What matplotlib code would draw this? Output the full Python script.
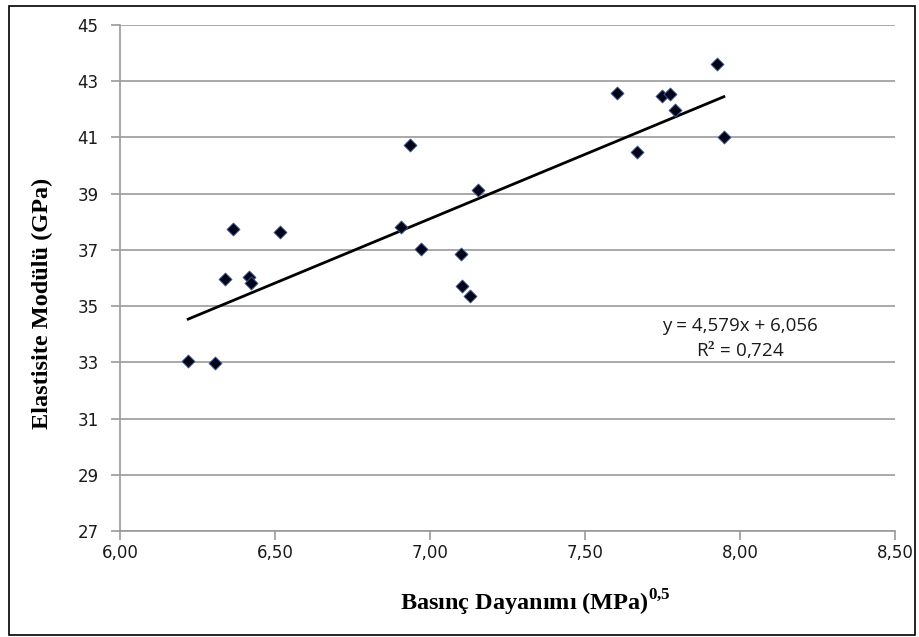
import matplotlib
matplotlib.use('Agg')
import matplotlib.pyplot as plt
from matplotlib.patches import Rectangle
import numpy as np

# basinc dayanimi karekoku (MPa)^0.5 ve elastisite modulu (GPa)
basinc = [6.22, 6.306, 6.338, 6.365, 6.416, 6.423, 6.515, 6.908, 6.936, 6.970,
          7.099, 7.103, 7.128, 7.154, 7.603, 7.668, 7.748, 7.773, 7.791, 7.926, 7.948]
modul = [33.04, 32.97, 35.95, 37.74, 36.04, 35.82, 37.63, 37.81, 40.72, 37.03,
         36.86, 35.72, 35.36, 39.12, 42.58, 40.49, 42.47, 42.56, 41.98, 43.60, 41.03]

# trend cizgisi katsayilari
egim = 4.579
kesim = 6.056
r2 = 0.724

x_ticks = [6.0, 6.5, 7.0, 7.5, 8.0, 8.5]
y_ticks = [27, 29, 31, 33, 35, 37, 39, 41, 43, 45]

plt.rcParams['mathtext.fontset'] = 'custom'
plt.rcParams['mathtext.rm'] = 'Liberation Serif:bold'
plt.rcParams['mathtext.bf'] = 'Liberation Serif:bold'

fig = plt.figure(figsize=(9.2, 6.37), dpi=100)
ax = fig.add_axes([120/920, 1 - 531/637, (895 - 120)/920, (531 - 25)/637])

# dis cerceve
fig.patches.append(Rectangle((9/920, 1 - 635/637), (915 - 9)/920, (635 - 6)/637,
                             transform=fig.transFigure, fill=False,
                             edgecolor='black', linewidth=1.2))

ax.scatter(basinc, modul, marker='D', s=44, color='#05051a',
           edgecolors='#3a5f9a', linewidths=0.6, zorder=3)

xt = np.array([min(basinc), max(basinc)])
ax.plot(xt, egim * xt + kesim, color='black', linewidth=2.0, zorder=2)

ax.set_xlim(6.0, 8.5)
ax.set_ylim(27, 45)
ax.set_xticks(x_ticks)
ax.set_yticks(y_ticks)
ax.set_xticklabels([f'{v:.2f}'.replace('.', ',') for v in x_ticks])
ax.set_yticklabels([str(v) for v in y_ticks])

for lab in ax.get_xticklabels() + ax.get_yticklabels():
    lab.set_family('DejaVu Sans')
    lab.set_fontsize(12)
    lab.set_color('#1a1a1a')

ax.grid(axis='y', color='#9a9a9a', linewidth=1.2)
ax.set_axisbelow(True)
for s in ['top', 'right']:
    ax.spines[s].set_visible(False)
for s in ['left', 'bottom']:
    ax.spines[s].set_color('#9a9a9a')
    ax.spines[s].set_linewidth(1.2)
ax.tick_params(axis='both', color='#9a9a9a', width=1.2, length=6.5, direction='out')
ax.tick_params(axis='y', pad=9)
ax.tick_params(axis='x', pad=3)

fig.text(535/920, 1 - 603/637, r'Basınç Dayanımı (MPa)$^{0{,}5}$',
         family='Liberation Serif', fontweight='bold', fontsize=17.5,
         ha='center', va='center')
fig.text(42/920, 1 - 303/637, 'Elastisite Modülü (GPa)',
         family='Liberation Serif', fontweight='bold', fontsize=17.5,
         ha='center', va='center', rotation=90)

ax.text(740/920, 1 - 326/637, f'y = {egim:.3f}x + {kesim:.3f}'.replace('.', ','),
        transform=fig.transFigure, family='Open Sans', fontsize=13.5,
        ha='center', va='center', color='#1a1a1a')
ax.text(740/920, 1 - 350/637, f'R$^2$ = {r2:.3f}'.replace('.', ','),
        transform=fig.transFigure, family='Open Sans', fontsize=13.5,
        ha='center', va='center', color='#1a1a1a')

fig.savefig('out.png', dpi=100)
